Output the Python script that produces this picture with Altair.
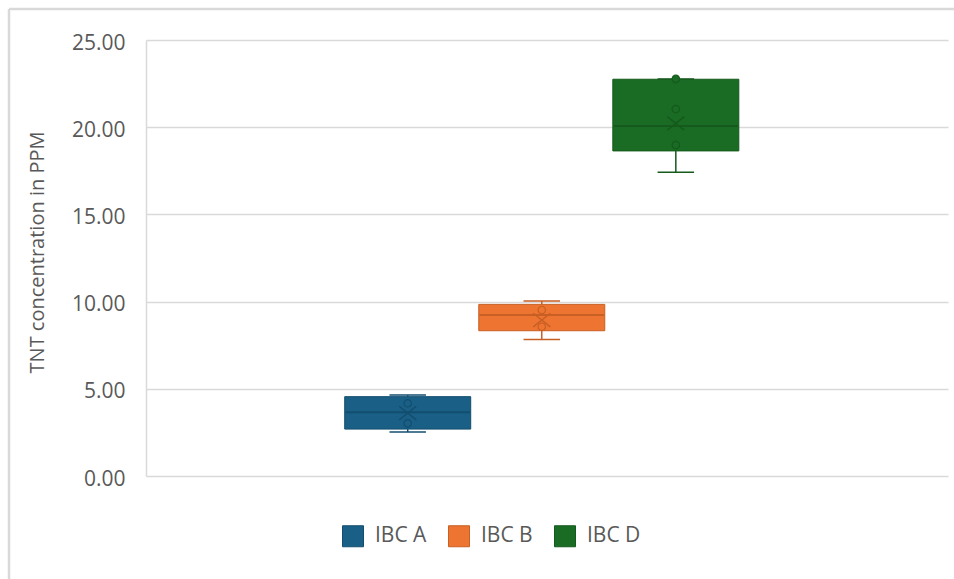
import altair as alt
import pandas as pd

# Five-number summaries per container (TNT, ppm)
series = ["IBC A", "IBC B", "IBC D"]
whisker_low = [2.52, 7.82, 17.41]
q1 = [2.69, 8.33, 18.64]
median = [3.65, 9.23, 20.07]
q3 = [4.55, 9.84, 22.75]
whisker_high = [4.64, 10.03, 22.77]
mean = [3.61, 8.94, 20.22]

# Individual readings shown inside the whiskers
point_series = ["IBC A", "IBC A", "IBC B", "IBC B", "IBC D", "IBC D", "IBC D"]
point_values = [4.17, 3.02, 9.52, 8.56, 22.77, 21.04, 18.98]

y_ticks = [0, 5, 10, 15, 20, 25]

fill_colors = ["#1a5f86", "#ed7431", "#1a6b23"]
line_colors = ["#134e6f", "#c85f24", "#155a1c"]

slot = {name: i for i, name in enumerate(series)}
summary = pd.DataFrame({
    "series": series,
    "pos": [slot[s] for s in series],
    "low": whisker_low,
    "q1": q1,
    "median": median,
    "q3": q3,
    "high": whisker_high,
    "mean": mean,
})
points = pd.DataFrame({
    "series": point_series,
    "pos": [slot[s] for s in point_series],
    "value": point_values,
})

W, H = 802, 436
PAD = {"left": 146, "top": 40, "right": 6, "bottom": 103}
TEXT = "#595959"
GRID = "#d9d9d9"
FONT = "Open Sans"

# One slot = 135.75 px; the three boxes are grouped left of centre
BOX_HALF = 0.464   # half box width in slot units
CAP_HALF = 0.136   # half whisker-cap width in slot units
x_scale = alt.Scale(domain=[-1.915, 3.993], nice=False, zero=False)
y_scale = alt.Scale(domain=[0, 25], nice=False)
fill_scale = alt.Scale(domain=series, range=fill_colors)
line_scale = alt.Scale(domain=series, range=line_colors)

legend = alt.Legend(
    title=None, orient="none", direction="horizontal",
    legendX=196, legendY=485,
    symbolType="square", symbolSize=441, symbolStrokeWidth=1,
    labelFont=FONT, labelFontSize=21, labelColor=TEXT,
    labelOffset=11, columnPadding=19,
)

X = alt.X("pos:Q", scale=x_scale, axis=None)
y_axis = alt.Axis(
    values=y_ticks, format=".2f", ticks=False, labelPadding=21,
    labelFont=FONT, labelFontSize=21, labelColor=TEXT, labelOffset=3,
    domainColor=GRID, domainWidth=1.5, gridColor=GRID, gridWidth=1.5,
    title="TNT concentration in PPM", titleFont=FONT, titleFontSize=20,
    titleColor=TEXT, titleFontWeight="normal", titleAngle=270,
    titleX=-109, titleY=212, titleAlign="center", titleBaseline="middle",
)

FILL = alt.Fill("series:N", scale=fill_scale, legend=legend)
STROKE = alt.Stroke("series:N", scale=line_scale, legend=legend)

base = alt.Chart(summary).transform_calculate(
    box_l=f"datum.pos - {BOX_HALF}",
    box_r=f"datum.pos + {BOX_HALF}",
    cap_l=f"datum.pos - {CAP_HALF}",
    cap_r=f"datum.pos + {CAP_HALF}",
)

lower_whisker = base.mark_rule(strokeWidth=1.5).encode(
    x=X,
    y=alt.Y("low:Q", scale=y_scale, axis=y_axis),
    y2="q1:Q",
    stroke=STROKE,
)
upper_whisker = base.mark_rule(strokeWidth=1.5).encode(
    x=X,
    y=alt.Y("q3:Q", scale=y_scale),
    y2="high:Q",
    stroke=STROKE,
)
boxes = base.mark_bar(size=126, strokeWidth=1).encode(
    x=X,
    y=alt.Y("q1:Q", scale=y_scale),
    y2="q3:Q",
    fill=FILL,
    stroke=STROKE,
)
medians = base.mark_rule(strokeWidth=2).encode(
    x=alt.X("box_l:Q", scale=x_scale, axis=None),
    x2="box_r:Q",
    y=alt.Y("median:Q", scale=y_scale),
    stroke=STROKE,
)
low_cap = base.mark_rule(strokeWidth=1.5).encode(
    x=alt.X("cap_l:Q", scale=x_scale, axis=None),
    x2="cap_r:Q",
    y=alt.Y("low:Q", scale=y_scale),
    stroke=STROKE,
)
high_cap = base.mark_rule(strokeWidth=1.5).encode(
    x=alt.X("cap_l:Q", scale=x_scale, axis=None),
    x2="cap_r:Q",
    y=alt.Y("high:Q", scale=y_scale),
    stroke=STROKE,
)
dots = alt.Chart(points).mark_point(shape="circle", filled=True, size=55, strokeWidth=1.2).encode(
    x=X,
    y=alt.Y("value:Q", scale=y_scale),
    fill=FILL,
    stroke=STROKE,
    opacity=alt.value(1),
)
means = alt.Chart(summary).mark_point(
    shape="M-1,-0.8L1,0.8M1,-0.8L-1,0.8", filled=False, size=289, strokeWidth=1.5
).encode(
    x=X,
    y=alt.Y("mean:Q", scale=y_scale),
    stroke=STROKE,
    opacity=alt.value(1),
)

# Outer frame of the chart area (top and left edges)
frame_data = alt.Data(values=[{"k": 0}])
frame_top = alt.Chart(frame_data).mark_rule(color=GRID, strokeWidth=2.5).encode(
    x=alt.value(9 - PAD["left"]), x2=alt.value(954 - PAD["left"]), y=alt.value(9 - PAD["top"])
)
frame_left = alt.Chart(frame_data).mark_rule(color=GRID, strokeWidth=2.5).encode(
    x=alt.value(9 - PAD["left"]), y=alt.value(9 - PAD["top"]), y2=alt.value(579 - PAD["top"])
)

chart = alt.layer(
    lower_whisker, upper_whisker, boxes, medians, low_cap, high_cap, dots, means,
    frame_top, frame_left,
).properties(
    width=W, height=H,
    autosize=alt.AutoSizeParams(type="none"),
    padding=PAD,
    background="white",
).configure_view(stroke=None)

chart.save("out.html", embed_options={"renderer": "svg", "actions": False})
